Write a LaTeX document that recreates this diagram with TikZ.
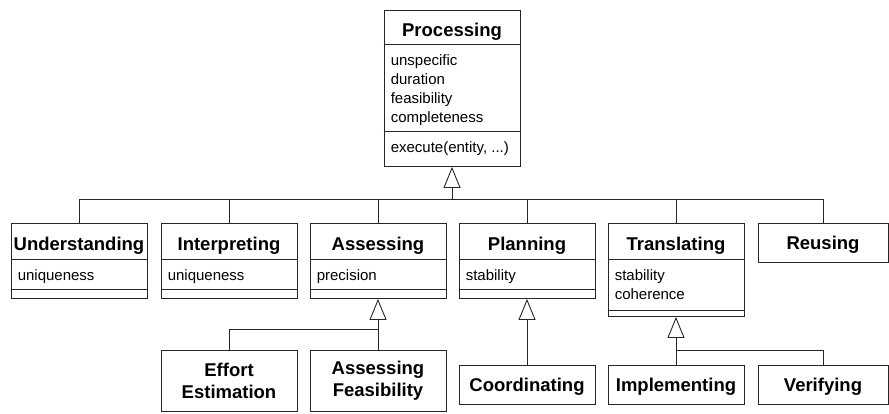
\documentclass[tikz,border=0pt]{standalone}
\usepackage{fontspec}
\setmainfont{Liberation Sans}
\usetikzlibrary{arrows.meta,positioning,calc}

\begin{document}
\begin{tikzpicture}[x=1pt, y=1pt,
    cls/.style={rectangle, draw=black!85, line width=0.9pt, minimum width=136pt, inner sep=0pt, anchor=north},
    ttl/.style={font=\fontsize{18.5}{22}\selectfont\bfseries, align=center, inner sep=0pt, text height=13.3pt, text depth=0pt},
    ttltwo/.style={font=\fontsize{18.5}{22}\selectfont\bfseries, align=center, inner sep=0pt},
    attr/.style={font=\fontsize{15}{19}\selectfont, align=left, anchor=north west, inner sep=0pt},
    sep/.style={draw=black!85, line width=0.9pt},
    link/.style={draw=black!85, line width=0.9pt},
    gen/.style={draw=black!85, line width=0.9pt, -{Triangle[open, length=21pt, width=17pt]}}
]
\useasboundingbox (0,0) rectangle (889,-413);

% Superclass
\node[cls, minimum height=156pt] (processing) at (452,-10) {};
\node[ttl] (processingT) at ([yshift=-19.5pt]processing.north) {Processing};
\draw[sep] ([yshift=-34pt]processing.north west) -- ([yshift=-34pt]processing.north east);
\draw[sep] ([yshift=-121pt]processing.north west) -- ([yshift=-121pt]processing.north east);
\node[attr] (processingA) at ([shift={(7pt,-42pt)}]processing.north west) {\strut unspecific\\\strut duration\\\strut feasibility\\\strut completeness};
\node[attr] (processingO) at ([shift={(7pt,-129pt)}]processing.north west) {\strut execute(entity, ...)};

% Second level
\node[cls, minimum height=75pt] (understanding) at (79,-223) {};
\node[ttl] (understandingT) at ([yshift=-20.5pt]understanding.north) {Understanding};
\draw[sep] ([yshift=-36pt]understanding.north west) -- ([yshift=-36pt]understanding.north east);
\draw[sep] ([yshift=-66pt]understanding.north west) -- ([yshift=-66pt]understanding.north east);
\node[attr] (understandingA) at ([shift={(7pt,-44pt)}]understanding.north west) {\strut uniqueness};

\node[cls, minimum height=75pt] (interpreting) at (229,-223) {};
\node[ttl] (interpretingT) at ([yshift=-20.5pt]interpreting.north) {Interpreting};
\draw[sep] ([yshift=-36pt]interpreting.north west) -- ([yshift=-36pt]interpreting.north east);
\draw[sep] ([yshift=-66pt]interpreting.north west) -- ([yshift=-66pt]interpreting.north east);
\node[attr] (interpretingA) at ([shift={(7pt,-44pt)}]interpreting.north west) {\strut uniqueness};

\node[cls, minimum height=75pt] (assessing) at (378,-223) {};
\node[ttl] (assessingT) at ([yshift=-20.5pt]assessing.north) {Assessing};
\draw[sep] ([yshift=-36pt]assessing.north west) -- ([yshift=-36pt]assessing.north east);
\draw[sep] ([yshift=-66pt]assessing.north west) -- ([yshift=-66pt]assessing.north east);
\node[attr] (assessingA) at ([shift={(7pt,-44pt)}]assessing.north west) {\strut precision};

\node[cls, minimum height=75pt] (planning) at (527,-223) {};
\node[ttl] (planningT) at ([yshift=-20.5pt]planning.north) {Planning};
\draw[sep] ([yshift=-36pt]planning.north west) -- ([yshift=-36pt]planning.north east);
\draw[sep] ([yshift=-66pt]planning.north west) -- ([yshift=-66pt]planning.north east);
\node[attr] (planningA) at ([shift={(7pt,-44pt)}]planning.north west) {\strut stability};

\node[cls, minimum height=93pt] (translating) at (676,-223) {};
\node[ttl] (translatingT) at ([yshift=-20.5pt]translating.north) {Translating};
\draw[sep] ([yshift=-36pt]translating.north west) -- ([yshift=-36pt]translating.north east);
\draw[sep] ([yshift=-87pt]translating.north west) -- ([yshift=-87pt]translating.north east);
\node[attr] (translatingA) at ([shift={(7pt,-44pt)}]translating.north west) {\strut stability\\\strut coherence};

\node[cls, ttl, minimum width=130pt, minimum height=39pt] (reusing) at (823,-223) {Reusing};

% Third level
\node[cls, ttltwo, minimum height=61pt] (effort) at (229,-350) {Effort\\Estimation};
\node[cls, ttltwo, minimum height=61pt] (feasibility) at (378,-350) {Assessing\\Feasibility};
\node[cls, ttl, minimum height=39pt] (coordinating) at (527,-365) {Coordinating};
\node[cls, ttl, minimum height=39pt] (implementing) at (676,-365) {Implementing};
\node[cls, ttl, minimum width=130pt, minimum height=39pt] (verifying) at (823,-365) {Verifying};

% Generalisations
\coordinate (busTop) at (452,-199);
\draw[link] (understanding.north) |- (busTop);
\draw[link] (interpreting.north) |- (busTop);
\draw[link] (assessing.north) |- (busTop);
\draw[link] (planning.north) |- (busTop);
\draw[link] (translating.north) |- (busTop);
\draw[link] (reusing.north) |- (busTop);
\draw[gen] (busTop) -- (processing.south);

\coordinate (busAssess) at (378,-329);
\draw[link] (effort.north) |- (busAssess);
\draw[link] (feasibility.north) -- (busAssess);
\draw[gen] (busAssess) -- (assessing.south);

\draw[gen] (coordinating.north) -- (planning.south);

\coordinate (busTrans) at (676,-350);
\draw[link] (implementing.north) -- (busTrans);
\draw[link] (verifying.north) |- (busTrans);
\draw[gen] (busTrans) -- (translating.south);

\end{tikzpicture}
\end{document}
